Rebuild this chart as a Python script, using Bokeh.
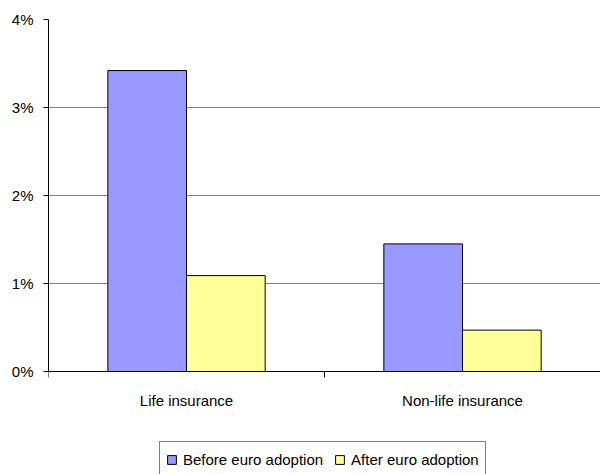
from bokeh.plotting import figure
from bokeh.models import (ColumnDataSource, Range1d, FixedTicker, PrintfTickFormatter,
                          Legend, LegendItem)
from bokeh.transform import dodge
from bokeh.embed import file_html
from bokeh.resources import INLINE

categories = ["Life insurance", "Non-life insurance"]
before = [3.42, 1.45]
after = [1.09, 0.47]
y_ticks = [0, 1, 2, 3, 4]
series_labels = ["Before euro adoption", "After euro adoption"]

FONT = "Liberation Sans"
FS = "15px"

centers = [i + 0.5 for i in range(len(categories))]
src = ColumnDataSource(dict(x=centers, before=before, after=after))

# frame runs from y=19 to the bottom of the figure; value 0 sits at y=371
W, H = 600, 474
top_px, zero_px = 19, 371
ppu = (zero_px - top_px) / 4.0
y_min = -(H - zero_px) / ppu

p = figure(width=W, height=H, output_backend="svg", toolbar_location=None,
           x_range=Range1d(0, len(categories)), y_range=Range1d(y_min, 4),
           min_border_left=48, min_border_right=0, min_border_top=top_px,
           min_border_bottom=0, outline_line_color=None,
           background_fill_color="white", border_fill_color="white")

bw = 0.285
r1 = p.vbar(x=dodge("x", -bw / 2, range=p.x_range), top="before", width=bw, source=src,
            fill_color="#9999FF", line_color="black", line_width=1)
r2 = p.vbar(x=dodge("x", bw / 2, range=p.x_range), top="after", width=bw, source=src,
            fill_color="#FFFF99", line_color="black", line_width=1)

# y axis
p.yaxis.ticker = FixedTicker(ticks=y_ticks)
p.yaxis.bounds = (0, 4)
p.yaxis.formatter = PrintfTickFormatter(format="%d%%")
p.yaxis.major_tick_out = 5
p.yaxis.major_tick_in = 0
p.yaxis.minor_tick_out = 0
p.yaxis.minor_tick_in = 0
p.yaxis.major_label_standoff = 10
p.yaxis.axis_line_color = "black"
p.yaxis.major_tick_line_color = "black"
p.yaxis.major_label_text_font = FONT
p.yaxis.major_label_text_font_size = FS
p.yaxis.major_label_text_color = "black"

# x axis drawn at value 0 inside the frame
p.xaxis.fixed_location = 0
p.xaxis.ticker = FixedTicker(ticks=centers, minor_ticks=list(range(len(categories) + 1)))
p.xaxis.major_label_overrides = {c: n for c, n in zip(centers, categories)}
p.xaxis.major_tick_out = 0
p.xaxis.major_tick_in = 0
p.xaxis.minor_tick_out = 6
p.xaxis.minor_tick_in = 0
p.xaxis.minor_tick_line_color = "black"
p.xaxis.axis_line_color = "black"
p.xaxis.major_label_standoff = 14
p.xaxis.major_label_text_font = FONT
p.xaxis.major_label_text_font_size = FS
p.xaxis.major_label_text_color = "black"

p.xgrid.grid_line_color = None
p.ygrid.grid_line_color = "#808080"
p.ygrid.grid_line_width = 1
p.ygrid.ticker = FixedTicker(ticks=y_ticks)

legend = Legend(items=[LegendItem(label=series_labels[0], renderers=[r1]),
                       LegendItem(label=series_labels[1], renderers=[r2])],
                orientation="horizontal", location=(111, -3),
                padding=6, spacing=11, label_standoff=6,
                glyph_width=11, glyph_height=11, label_height=22,
                label_text_font=FONT, label_text_font_size=FS,
                label_text_color="black",
                border_line_color="black", border_line_width=1,
                background_fill_color="white", background_fill_alpha=1)
p.add_layout(legend, "center")

open("out.html", "w").write(file_html(p, INLINE))
